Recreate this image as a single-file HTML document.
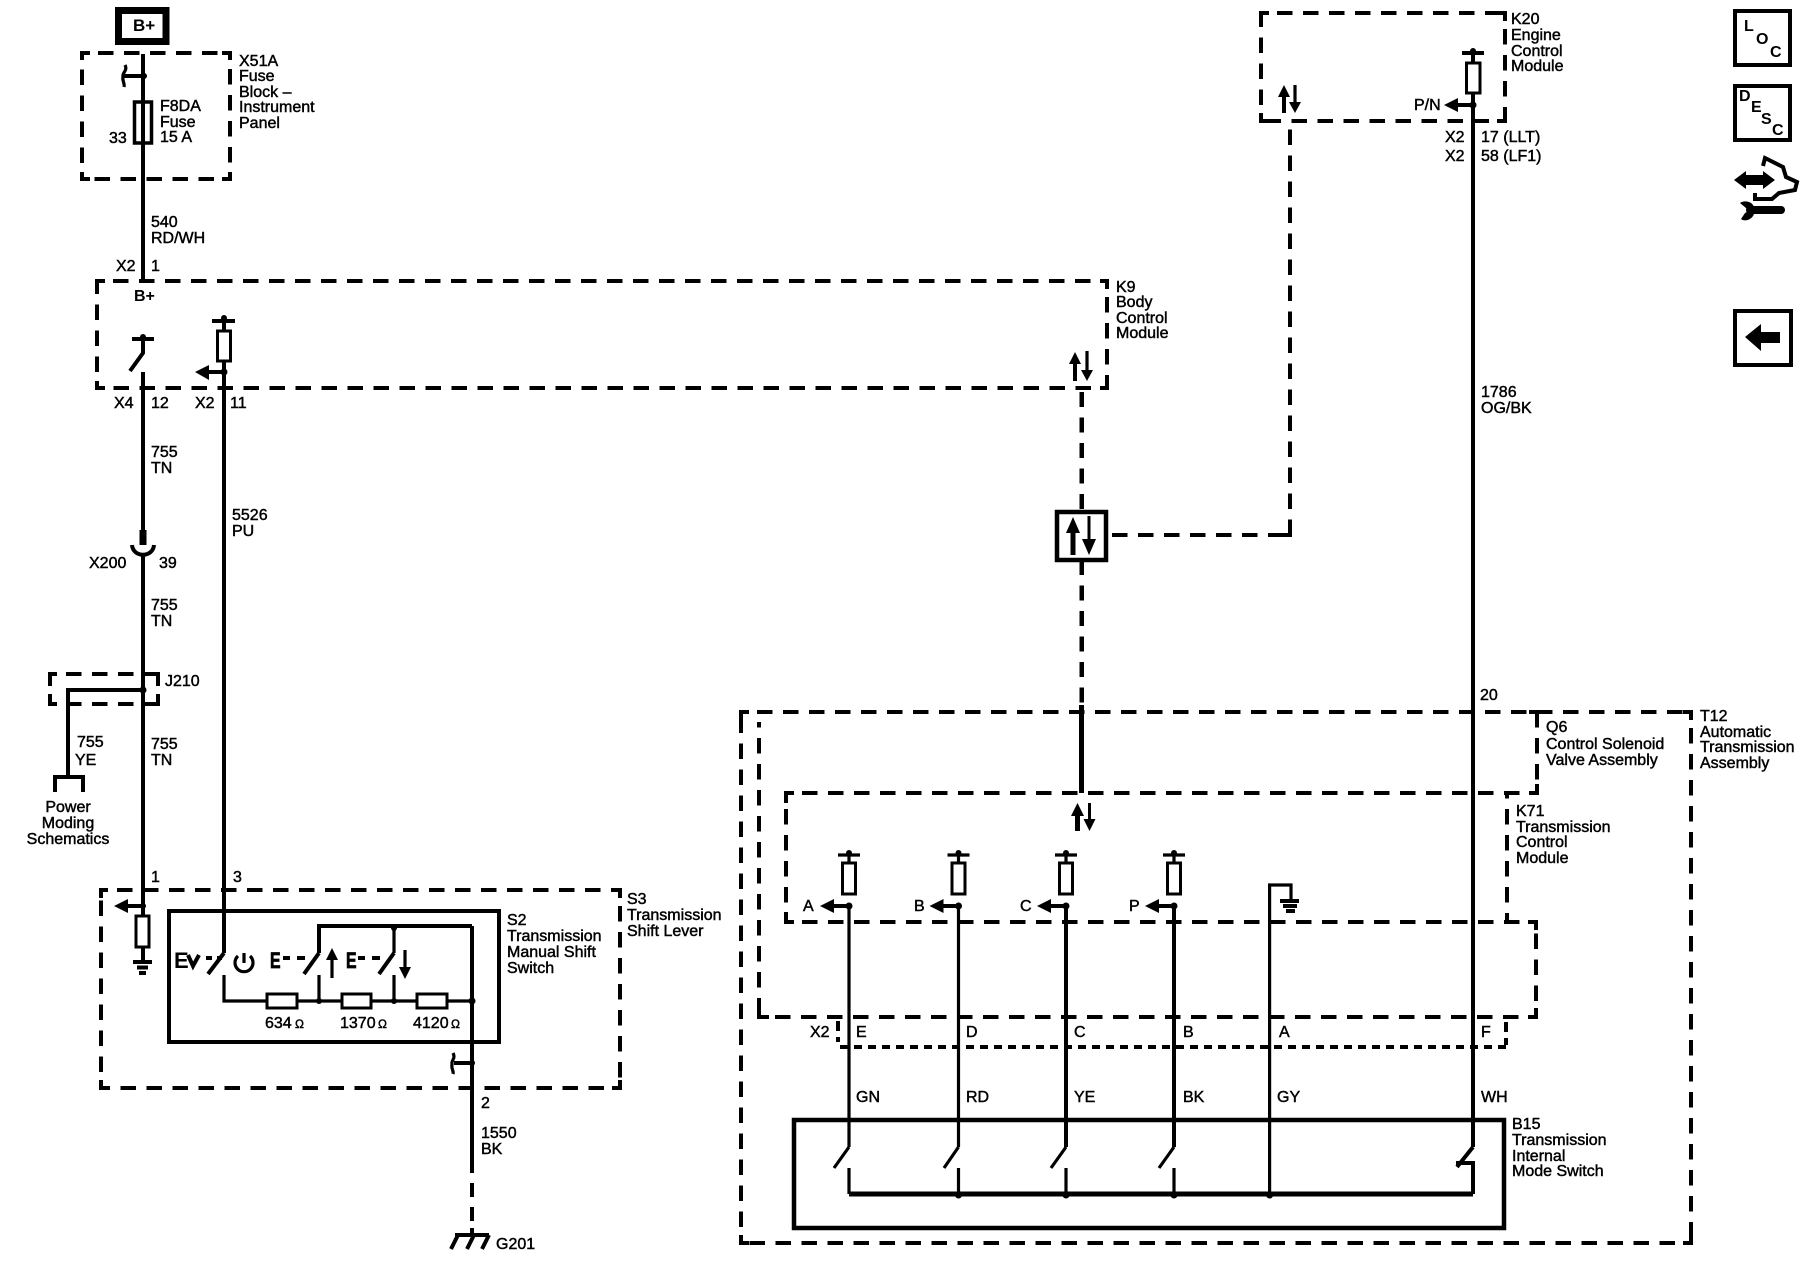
<!DOCTYPE html>
<html><head><meta charset="utf-8"><title>Transmission Shift Lever Schematic</title>
<style>
html,body{margin:0;padding:0;background:#fff}
svg{display:block}
text{font-family:"Liberation Sans",sans-serif;font-size:16px;fill:#000;stroke:#000;stroke-width:.45}
.b{font-weight:bold;stroke-width:0}
.w{fill:none;stroke:#000;stroke-width:4}
.t{fill:none;stroke:#000;stroke-width:3.2}
.d{fill:none;stroke:#000;stroke-width:4;stroke-dasharray:15.5 10.5;stroke-dashoffset:10;shape-rendering:crispEdges}
.c{fill:none;stroke:#000;stroke-width:4;shape-rendering:crispEdges}
.f{fill:#fff;stroke:#000;stroke-width:3.2;shape-rendering:crispEdges}
</style></head><body>
<svg xmlns="http://www.w3.org/2000/svg" width="1800" height="1280" viewBox="0 0 1800 1280">
<defs>
<g id="tf">
<path class="t" d="M-11,0H11M0,-2V7"/><circle cx="0" cy="-2" r="3"/>
<rect class="f" x="-6.5" y="8" width="13" height="31"/>
<path class="w" d="M-16,51H0"/><path d="M-29,51L-15,44V58Z"/><circle cx="0" cy="51" r="3.5"/>
</g>
</defs>

<!-- dashed boxes -->
<path class="d" d="M82,53H230M230,53V179M230,179H82M82,179V53"/>
<path class="c" d="M82,60V53H90M222,53H230V60M230,172V179H222M90,179H82V172"/>
<path class="d" d="M97,281H1107M1107,281V388M1107,388H97M97,388V281"/>
<path class="c" d="M97,289V281H105M1100,281H1107V289M1107,381V388H1100M105,388H97V381"/>
<path class="d" d="M50,674H158M50,704H158"/>
<path class="c" d="M50,686V674H57M150,674H158V686M158,694V704H150M57,704H50V694"/>
<path class="d" d="M101,890H620M620,890V1088M620,1088H101M101,1088V890"/>
<path class="c" d="M101,898V890H108M612,890H620V898M620,1080V1088H612M108,1088H101V1080"/>
<path class="d" d="M1261,13H1505M1505,13V121M1505,121H1261M1261,121V13"/>
<path class="c" d="M1261,21V13H1269M1497,13H1505V21M1505,113V121H1497M1269,121H1261V113"/>
<path class="d" d="M741,712H1691M1691,712V1243M1691,1243H741M741,1243V712"/>
<path class="c" d="M741,720V712H749M1683,712H1691V720M1691,1235V1243H1683M749,1243H741V1235"/>
<path class="d" d="M759,722V1017M759,1017H1536M1536,1017V922M786,922H1536M786,793H1537M1537,722V793M786,793V922M1507,793V922"/>
<path class="c" d="M1529,712H1537V722M1537,784V793H1529M786,803V793H794M794,922H786V912M759,1007V1017H769M1528,922H1536V930M1536,1008V1017H1528M1507,914V922"/>
<path fill="none" stroke="#000" stroke-width="4" stroke-dasharray="8 6" shape-rendering="crispEdges" d="M840,1047H1506"/>
<path class="c" stroke-dasharray="10 6" d="M838,1021V1042M1506,1022V1045"/>

<!-- B+ top -->
<rect x="118.500" y="10.500" width="47.500" height="31" fill="#fff" stroke="#000" stroke-width="7"/>
<text x="133" y="31" class="b" style="font-size:17px">B+</text>

<!-- main fuse wire -->
<path class="w" d="M143,54V282"/>
<path class="w" d="M146,76H124"/>
<path class="t" d="M125,65C128,71 122,72 123,77C122,81 125,83 124,87"/>
<circle cx="144" cy="76" r="3"/>
<rect x="134.500" y="102" width="17" height="41" fill="none" stroke="#000" stroke-width="3.500"/>

<!-- K9 internals -->
<path class="w" d="M132,339H154"/><circle cx="143" cy="337" r="3"/>
<path class="w" d="M143,339V353L130,371"/>
<path class="w" d="M143,372V530"/>
<path d="M139.500,530h7v15h-7z"/>
<path class="w" d="M132,545C133,558 153,558 154,545"/>
<path class="w" d="M143,556V885"/>
<path class="w" d="M143,885V947"/>
<path class="w" d="M212,321H235"/><circle cx="224" cy="318" r="3"/>
<path class="w" d="M224,318V953"/>
<rect class="f" x="217.500" y="331" width="13" height="30" stroke-width="3.500"/>
<path class="w" d="M224,372H206"/><path d="M195,372L209,365V380Z"/><circle cx="224" cy="372" r="3.500"/>

<!-- J210 -->
<path class="w" d="M143,690H68V777"/><circle cx="143" cy="690" r="3.500"/>
<path class="w" d="M55,792V777H83V792"/>

<!-- S3 internals -->
<path class="w" d="M143,906H126"/><path d="M114,906L128,899V913Z"/><circle cx="143" cy="906" r="3"/>
<rect class="f" x="136" y="916" width="13" height="31"/>
<path class="w" d="M143,947V962M133,962H152M137,967.500H148M139,973H146"/>
<rect x="169" y="911" width="330" height="131" fill="none" stroke="#000" stroke-width="4"/>
<path class="w" d="M224,953L208,974"/>
<path class="t" d="M224,975V1001H472"/>
<rect class="f" x="267" y="994" width="30" height="14"/>
<rect class="f" x="342" y="994" width="29" height="14"/>
<rect class="f" x="417" y="994" width="30" height="14"/>
<path class="w" d="M319,953V926H472"/>
<path class="t" d="M394,926V953"/>
<path class="w" d="M319,953L304,974M394,953L379,974"/>
<path class="t" d="M319,975V1001M394,975V1001"/>
<circle cx="319" cy="1001" r="3"/><circle cx="394" cy="1001" r="3"/><circle cx="472" cy="1001" r="3.500"/><circle cx="394" cy="928" r="3"/>
<path class="w" d="M472,926V1173"/>
<path class="w" d="M472,1063H454"/><circle cx="472" cy="1063" r="3"/>
<path class="t" d="M453,1053C456,1059 451,1060 452,1064C451,1069 454,1071 453,1074"/>
<path class="c" stroke-dasharray="14 10" d="M472,1183V1228"/>
<path class="w" d="M472,1228V1235M455,1235H489M458,1235L451,1249M474,1235L467,1249M489,1235L482,1249"/>

<!-- S2 symbols -->
<text x="174" y="968" class="b" style="font-size:22px">E</text>
<path class="w" d="M188,955L193,966L199,955"/>
<path class="w" d="M206,958H212M217,958H222"/>
<path class="t" d="M244,953V963"/>
<path class="t" d="M238,956A9,9 0 1,0 250,956"/>
<text transform="translate(270,968) scale(.72,1)" class="b" style="font-size:22px;stroke-width:.8">E</text>
<path class="w" d="M283,958H290M297,958H305"/>
<path class="t" d="M332,978V957"/><path d="M332,948L338,960H326Z"/>
<text transform="translate(346,968) scale(.72,1)" class="b" style="font-size:22px;stroke-width:.8">E</text>
<path class="w" d="M358,958H365M372,958H380"/>
<path class="t" d="M405,950V972"/><path d="M405,979L399,967H411Z"/>

<!-- Right side data network -->
<path class="w" d="M1075,381V360"/><path d="M1075,352L1081,364H1069Z"/>
<path class="t" d="M1087,351V372"/><path d="M1087,381L1081,370H1093Z"/>
<path fill="none" stroke="#000" stroke-width="4.500" stroke-dasharray="15 10.500" shape-rendering="crispEdges" d="M1081.500,392V512"/>
<rect x="1057" y="512" width="49" height="48" fill="#fff" stroke="#000" stroke-width="4.500"/>
<path d="M1070.500,555V530h5v25z"/><path d="M1073,517L1080,533H1066Z"/>
<path d="M1087.500,516h3v25h-3z"/><path d="M1089,555L1082,539H1096Z"/>
<path fill="none" stroke="#000" stroke-width="4.500" stroke-dasharray="15 10.500" shape-rendering="crispEdges" d="M1081.500,560V705"/>
<path fill="none" stroke="#000" stroke-width="5" d="M1081.500,705V793"/>
<path fill="none" stroke="#000" stroke-width="4" stroke-dasharray="15.500 10.500" shape-rendering="crispEdges" d="M1112,535H1290M1290,535V125"/>
<path class="c" d="M1282,535H1290V527"/>

<path d="M1075,831h5v-18h-5z"/><path d="M1077.500,803L1084,816H1071Z"/>
<path d="M1088,803h3v20h-3z"/><path d="M1089.500,831L1083.500,819H1095.500Z"/>

<!-- K20 -->
<path class="w" d="M1462,53H1484"/><circle cx="1473" cy="51" r="3"/>
<path class="w" d="M1473,51V1147"/>
<rect class="f" x="1466.500" y="63" width="13.500" height="30"/>
<path class="w" d="M1473,105H1455"/><path d="M1444,105L1458,98V112Z"/><circle cx="1473" cy="105" r="3.500"/>
<path class="w" d="M1284,113V92"/><path d="M1284,85L1290,97H1278Z"/>
<path class="t" d="M1295,85V105"/><path d="M1295,113L1289,102H1301Z"/>

<!-- K71 modules -->
<use href="#tf" x="849" y="855"/>
<use href="#tf" x="958.500" y="855"/>
<use href="#tf" x="1066" y="855"/>
<use href="#tf" x="1174" y="855"/>
<path class="t" d="M849,906V1147M958.500,906V1147"/>
<path class="w" d="M1066,906V1147M1174,906V1147"/>
<path class="t" d="M1269.600,1194V885H1291V900"/>
<path class="w" d="M1280,901H1299M1283,906H1297M1286,911H1295"/>
<path class="t" d="M849,1147L834,1168M958.500,1147L944,1168M1066,1147L1051,1168M1174,1147L1159,1168"/>
<path class="t" d="M849,1168V1194M958.500,1168V1194M1066,1168V1194M1174,1168V1194"/>
<path fill="none" stroke="#000" stroke-width="5" d="M849,1194H1473"/>
<circle cx="958.500" cy="1195" r="3.500"/><circle cx="1066" cy="1195" r="3.500"/><circle cx="1174" cy="1195" r="3.500"/><circle cx="1269.600" cy="1195" r="3.500"/>
<path class="w" d="M1473,1147L1457,1167M1456,1163H1473V1194"/>
<rect x="794" y="1120" width="710" height="108" fill="none" stroke="#000" stroke-width="4.500"/>

<!-- Icon boxes -->
<rect x="1735" y="11" width="55" height="54" fill="none" stroke="#000" stroke-width="4"/>
<text x="1744" y="31" class="b">L</text><text x="1756" y="44" class="b">O</text><text x="1770" y="57" class="b">C</text>
<rect x="1735" y="86" width="55" height="54" fill="none" stroke="#000" stroke-width="4"/>
<text x="1739" y="101" class="b">D</text><text x="1751" y="112" class="b">E</text><text x="1761" y="124" class="b">S</text><text x="1772" y="135" class="b">C</text>
<rect x="1735" y="311" width="56" height="54" fill="none" stroke="#000" stroke-width="4"/>
<path d="M1745,337L1761,324V332H1780V343H1761V351Z"/>
<path d="M1734,180L1746,171V175H1763V171L1775,180L1763,189V185H1746V189Z"/>
<path fill="none" stroke="#000" stroke-width="4" d="M1763,166L1765,158L1783,167L1786,177L1797,182L1795,190L1779,193L1772,199L1755,199V193"/>
<path class="w" style="stroke-width:8;stroke-linecap:round" d="M1750,210H1781"/>
<path d="M1740,203C1744,200 1752,201 1754,207L1754,214C1752,220 1744,222 1741,219L1745,213L1749,211L1746,208Z"/>

<!-- Labels -->
<text x="239" y="66">X51A</text><text x="239" y="81">Fuse</text><text x="239" y="97">Block –</text><text x="239" y="112">Instrument</text><text x="239" y="128">Panel</text>
<text x="160" y="111">F8DA</text><text x="160" y="127">Fuse</text><text x="160" y="142">15 A</text>
<text x="109" y="143">33</text>
<text x="151" y="227">540</text><text x="151" y="243">RD/WH</text>
<text x="116" y="271">X2</text><text x="151" y="271">1</text>
<text x="134" y="301" class="b">B+</text>
<text x="114" y="408">X4</text><text x="151" y="408">12</text><text x="195" y="408">X2</text><text x="230" y="408">11</text>
<text x="151" y="457">755</text><text x="151" y="473">TN</text>
<text x="232" y="520">5526</text><text x="232" y="536">PU</text>
<text x="89" y="568">X200</text><text x="159" y="568">39</text>
<text x="151" y="610">755</text><text x="151" y="626">TN</text>
<text x="165" y="686">J210</text>
<text x="77" y="747">755</text><text x="75" y="765">YE</text>
<text x="151" y="749">755</text><text x="151" y="765">TN</text>
<text x="68" y="812" text-anchor="middle">Power</text><text x="68" y="828" text-anchor="middle">Moding</text><text x="68" y="844" text-anchor="middle">Schematics</text>
<text x="151" y="882">1</text><text x="233" y="882">3</text>
<text x="627" y="904">S3</text><text x="627" y="920">Transmission</text><text x="627" y="936">Shift Lever</text>
<text x="507" y="925">S2</text><text x="507" y="941">Transmission</text><text x="507" y="957">Manual Shift</text><text x="507" y="973">Switch</text>
<text x="265" y="1028">634</text><text x="295" y="1028" style="font-size:12px">Ω</text>
<text x="340" y="1028">1370</text><text x="378" y="1028" style="font-size:12px">Ω</text>
<text x="413" y="1028">4120</text><text x="451" y="1028" style="font-size:12px">Ω</text>
<text x="481" y="1108">2</text><text x="481" y="1138">1550</text><text x="481" y="1154">BK</text>
<text x="496" y="1249">G201</text>

<text x="1116" y="292">K9</text><text x="1116" y="307">Body</text><text x="1116" y="323">Control</text><text x="1116" y="338">Module</text>
<text x="1511" y="24">K20</text><text x="1511" y="40">Engine</text><text x="1511" y="56">Control</text><text x="1511" y="71">Module</text>
<text x="1414" y="110">P/N</text>
<text x="1445" y="142">X2</text><text x="1481" y="142">17 (LLT)</text>
<text x="1445" y="161">X2</text><text x="1481" y="161">58 (LF1)</text>
<text x="1481" y="397">1786</text><text x="1481" y="413">OG/BK</text>
<text x="1480" y="700">20</text>
<text x="1546" y="732">Q6</text><text x="1546" y="749">Control Solenoid</text><text x="1546" y="765">Valve Assembly</text>
<text x="1700" y="721">T12</text><text x="1700" y="737">Automatic</text><text x="1700" y="752">Transmission</text><text x="1700" y="768">Assembly</text>
<text x="1516" y="816">K71</text><text x="1516" y="832">Transmission</text><text x="1516" y="847">Control</text><text x="1516" y="863">Module</text>
<text x="803" y="911">A</text><text x="914" y="911">B</text><text x="1020" y="911">C</text><text x="1129" y="911">P</text>
<text x="810" y="1037">X2</text><text x="856" y="1037">E</text><text x="966" y="1037">D</text><text x="1074" y="1037">C</text><text x="1183" y="1037">B</text><text x="1279" y="1037">A</text><text x="1481" y="1037">F</text>
<text x="856" y="1102">GN</text><text x="966" y="1102">RD</text><text x="1074" y="1102">YE</text><text x="1183" y="1102">BK</text><text x="1277" y="1102">GY</text><text x="1481" y="1102">WH</text>
<text x="1512" y="1129">B15</text><text x="1512" y="1145">Transmission</text><text x="1512" y="1161">Internal</text><text x="1512" y="1176">Mode Switch</text>
</svg>
</body></html>
